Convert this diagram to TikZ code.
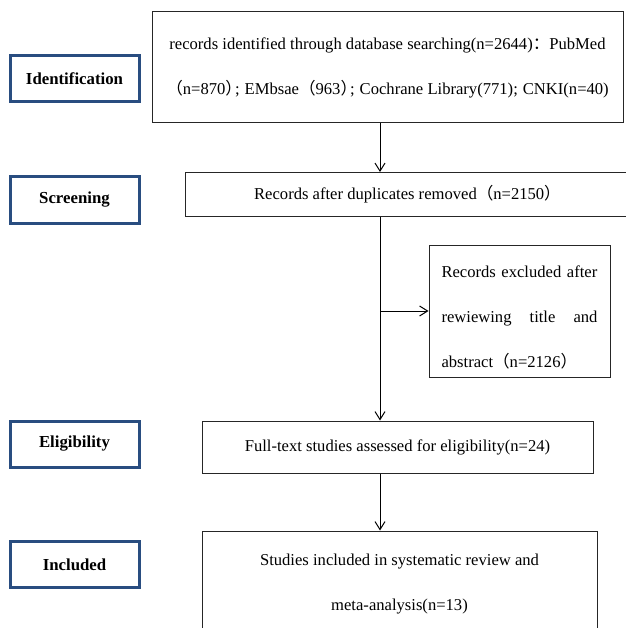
\documentclass[tikz,border=0pt]{standalone}
\usepackage{fontspec}
\setmainfont{Liberation Serif}
\newfontfamily\cjk{Noto Sans CJK SC}
\usetikzlibrary{arrows.meta}
% full-width punctuation
\newcommand{\zlp}{{\cjk （}}
\newcommand{\zrp}{{\cjk ）}}
\newcommand{\zrpsemi}{{\cjk ）}\kern-7pt;\hspace{5pt}}
\newcommand{\zsemi}{;\hspace{5pt}}
\newcommand{\zcolon}{{\cjk ：}}
\definecolor{stageblue}{RGB}{41,77,128}
\tikzset{
  stage/.style={draw=stageblue, line width=3pt, inner sep=0pt, minimum width=129pt, minimum height=46pt, font=\fontsize{16.8}{20}\selectfont\bfseries},
  flowbox/.style={draw=black!85, line width=1pt, inner sep=0pt, align=center, font=\fontsize{16.6}{45}\selectfont},
  flow/.style={-{Straight Barb[length=8pt,width=10pt]}, line width=1pt}
}
\begin{document}
\begin{tikzpicture}[x=1pt,y=-1pt]
\useasboundingbox (0,0) rectangle (625,628);
% stages
\node[stage] (ident) at (74.5,79) {Identification};
\node[stage] (screen) at (74.5,200) {Screening};
\node[stage] (elig) at (74.5,444) {Eligibility};
\node[stage] (incl) at (74.5,564.5) {Included};
% flow boxes
\node[flowbox, minimum width=471pt, minimum height=111pt] (found) at (387.5,67.5)
  {records identified through database searching(n=2644)\zcolon PubMed\\
   \zlp n=870\zrpsemi EMbsae\zlp 963\zrpsemi Cochrane Library(771)\zsemi CNKI(n=40)};
\node[flowbox, minimum width=445pt, minimum height=44pt] (dedup) at (407.5,194.5)
  {Records after duplicates removed\zlp n=2150\zrp};
\node[flowbox, minimum width=181pt, minimum height=132pt, text width=156pt, align=left] (excl) at (519.5,311)
  {\rule{0pt}{24pt}Records excluded after\\ rewiewing\hfill title\hfill and\\ abstract\zlp n=2126\zrp};
\node[flowbox, minimum width=391pt, minimum height=52pt] (full) at (397.5,447)
  {Full-text studies assessed for eligibility(n=24)};
\node[flowbox, minimum width=395pt, minimum height=101pt] (final) at (399.5,581.5)
  {\rule{0pt}{16pt}Studies included in systematic review and\\ meta-analysis(n=13)};
% connectors
\coordinate (spine) at (380,0);
\draw[flow] (found.south -| spine) -- (dedup.north -| spine);
\draw[flow] (dedup.south -| spine) -- (full.north -| spine);
\draw[flow] (spine |- excl.west) -- (excl.west);
\draw[flow] (full.south -| spine) -- (final.north -| spine);
\end{tikzpicture}
\end{document}
